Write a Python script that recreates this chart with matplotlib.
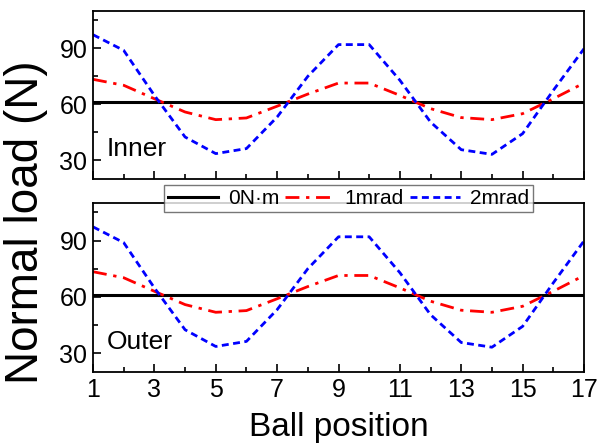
import matplotlib
matplotlib.use("Agg")
import matplotlib.pyplot as plt
from matplotlib.ticker import MultipleLocator

plt.rcParams['font.family'] = ['Liberation Sans', 'DejaVu Sans']

ball = list(range(1, 18))

inner_0 = [61.2] * 17
inner_1 = [73.4, 70.2, 63.0, 55.9, 51.8, 52.7, 59.0, 65.5, 71.4, 71.4, 64.8, 57.7, 52.9, 51.8, 55.0, 63.0, 71.4]
inner_2 = [97.3, 88.9, 64.8, 42.5, 33.6, 36.3, 53.2, 75.0, 92.0, 92.0, 72.9, 50.5, 35.7, 33.2, 44.3, 67.5, 89.8]

outer_0 = [61.2] * 17
outer_1 = [73.4, 70.2, 63.0, 55.9, 51.8, 52.7, 59.0, 65.5, 71.4, 71.4, 64.8, 57.7, 52.9, 51.8, 55.0, 63.0, 71.4]
outer_2 = [97.3, 88.9, 64.8, 42.5, 33.6, 36.3, 53.2, 75.0, 92.0, 92.0, 72.9, 50.5, 35.7, 33.2, 44.3, 67.5, 89.8]

labels = ['0N·m', '1mrad', '2mrad']
yticks = [30, 60, 90]
xticks = [1, 3, 5, 7, 9, 11, 13, 15, 17]

fig = plt.figure(figsize=(5.99, 4.44), dpi=100)
W, H = 599, 444
ax_top = fig.add_axes([93 / W, 1 - 179 / H, (584 - 93) / W, (179 - 11) / H])
ax_bot = fig.add_axes([93 / W, 1 - 372 / H, (584 - 93) / W, (372 - 203) / H])

def draw(ax, s0, s1, s2, name):
    l0, = ax.plot(ball, s0, color='black', lw=2.2, label=labels[0])
    l1, = ax.plot(ball, s1, color='red', lw=2.0, dashes=(5, 2.4, 1.2, 2.4), label=labels[1])
    l2, = ax.plot(ball, s2, color='blue', lw=2.0, dashes=(2.5, 1.6), label=labels[2])
    ax.set_xlim(1, 17)
    ax.set_ylim(20, 110)
    ax.set_yticks(yticks)
    ax.yaxis.set_minor_locator(MultipleLocator(15))
    ax.set_xticks(xticks)
    ax.xaxis.set_minor_locator(MultipleLocator(1))
    ax.tick_params(which='both', direction='in', top=False, right=False, width=1.2)
    ax.tick_params(which='major', length=6, labelsize=18, pad=4)
    ax.tick_params(which='minor', length=3.5)
    for sp in ax.spines.values():
        sp.set_linewidth(1.3)
    ax.text(1.45, 36, name, fontsize=19, va='center', ha='left')
    return [l0, l1, l2]

handles = draw(ax_top, inner_0, inner_1, inner_2, 'Inner')
draw(ax_bot, outer_0, outer_1, outer_2, 'Outer')
ax_top.tick_params(labelbottom=False)

leg = fig.legend(handles=handles, loc='center', ncol=3,
                 bbox_to_anchor=((150 + 547) / 2 / W, 1 - 198.5 / H),
                 fontsize=15, frameon=True, fancybox=False, edgecolor='#555555',
                 handlelength=2.4, columnspacing=0.3, handletextpad=0.45,
                 borderpad=0.2, borderaxespad=0)
leg.get_frame().set_linewidth(1.0)

fig.text(26 / W, 1 - 222 / H, 'Normal load (N)', rotation=90, fontsize=33,
         ha='center', va='center')
fig.text((245 + 433) / 2 / W, 1 - 436 / H, 'Ball position', fontsize=24,
         ha='center', va='baseline')

fig.savefig('out.png', dpi=100)
